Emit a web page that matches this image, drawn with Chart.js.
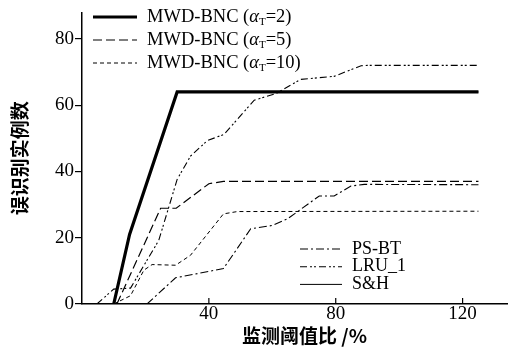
<!DOCTYPE html>
<html><head><meta charset="utf-8">
<script src="https://cdn.jsdelivr.net/npm/chart.js@4.4.1/dist/chart.umd.min.js"></script>
<style>html,body{margin:0;padding:0;background:#fff}#w{width:515px;height:347px}</style>
</head><body><div id="w"><canvas id="c" width="515" height="347"></canvas></div>
<script>
const xTicks = [40, 80, 120];
const yTicks = [0, 20, 40, 60, 80];
const xTitle = '监测阈值比 /%';
const yTitle = '误识别实例数';
const labels = ['MWD-BNC (α_T=2)', 'MWD-BNC (α_T=5)', 'MWD-BNC (α_T=10)', 'PS-BT', 'LRU_1', 'S&H'];
const mwd2 = [[10,0],[15,21],[30,64],[125,64]];
const mwd5 = [[11,0],[24.8,28.9],[29.7,28.9],[40,36.3],[44.6,37],[125,37]];
const mwd10 = [[10,0],[15.3,2.5],[19.5,10.2],[22.1,11.9],[29.5,11.7],[34.2,14.7],[44.6,27.2],[49,27.9],[125,28]];
const psbt = [[20.5,0],[29.5,7.9],[44.6,10.7],[53.2,22.7],[55.3,23],[60,23.7],[64.8,25.7],[74.8,32.6],[79.5,32.6],[84.8,35.6],[89,36.1],[125,36]];
const lru1 = [[4.7,0],[10,4.5],[15.3,4.8],[24.2,19.2],[30,37.6],[34.2,44.6],[39.5,49.3],[44.8,51.2],[54.3,61.5],[61.1,63.5],[69,67.8],[79.5,68.7],[88,71.9],[90,72],[125,72]];
const sh = [[10,0],[15,21],[30,64],[125,64]];

const pts = a => a.map(p => ({x:p[0], y:p[1]}));
const serif = '"Liberation Serif", "Times New Roman", serif';
const styles = [
  {w:3.2, d:[]}, {w:1.2, d:[9,4]}, {w:1, d:[4,3]}, {w:1.1, d:[8,3,2,3]}, {w:1.1, d:[7,3,2,2,2,3]}, {w:1, d:[]}
];
const series = [mwd2, mwd5, mwd10, psbt, lru1, sh];
const datasets = series.map((s,i) => ({
  label: labels[i], data: pts(s), borderColor:'#000', backgroundColor:'#000',
  borderWidth: styles[i].w, borderDash: styles[i].d, pointRadius:0, tension:0, fill:false,
  order: i===0 ? 0 : 1
}));

function drawLabel(ctx, text, x, y, size) {
  ctx.textBaseline = 'middle';
  ctx.textAlign = 'left';
  const m = text.match(/^(.*)α_T(.*)$/);
  if (!m) { ctx.font = size+'px '+serif; ctx.fillText(text, x, y); return; }
  ctx.font = size+'px '+serif; ctx.fillText(m[1], x, y); x += ctx.measureText(m[1]).width;
  ctx.font = 'italic '+size+'px '+serif; ctx.fillText('α', x, y); x += ctx.measureText('α').width;
  const ss = Math.round(size*0.62);
  ctx.font = ss+'px '+serif; ctx.fillText('T', x, y+size*0.28); x += ctx.measureText('T').width;
  ctx.font = size+'px '+serif; ctx.fillText(m[2], x, y);
}

const plugin = {
  id:'custom',
  afterDraw(chart) {
    const ctx = chart.ctx, xs = chart.scales.x, ys = chart.scales.y;
    ctx.save();
    ctx.strokeStyle = '#000'; ctx.fillStyle = '#000'; ctx.lineWidth = 1.2; ctx.setLineDash([]);
    const by = ys.getPixelForValue(0);
    xTicks.forEach(v => { const px = xs.getPixelForValue(v); ctx.beginPath(); ctx.moveTo(px, by); ctx.lineTo(px, by-6); ctx.stroke(); });
    const groups = [
      {idx:[0,1,2], x0:93, x1:137, tx:147, y0:17, dy:23, size:18.5},
      {idx:[3,4,5], x0:300, x1:342, tx:352, y0:249, dy:17.7, size:18}
    ];
    groups.forEach(g => g.idx.forEach((di,k) => {
      const ds = chart.data.datasets[di]; const y = g.y0 + k*g.dy;
      ctx.lineWidth = ds.borderWidth; ctx.setLineDash(ds.borderDash);
      ctx.beginPath(); ctx.moveTo(g.x0, y); ctx.lineTo(g.x1, y); ctx.stroke();
      ctx.setLineDash([]);
      drawLabel(ctx, ds.label, g.tx, y, g.size);
    }));
    // x-axis title, centred where the reference places it
    ctx.font = 'bold 19px "Noto Sans CJK SC"';
    ctx.textAlign = 'center'; ctx.textBaseline = 'middle';
    ctx.fillText(xTitle, (xs.left + xs.right)/2 + 10, 336);
    ctx.restore();
  }
};

new Chart(document.getElementById('c'), {
  type:'line',
  data:{datasets},
  plugins:[plugin],
  options:{
    responsive:false, animation:false,
    layout:{padding:{top:8, right:8, left:0, bottom:0}},
    plugins:{legend:{display:false}, tooltip:{enabled:false}},
    scales:{
      x:{type:'linear', min:0, max:134,
        afterBuildTicks: s => { s.ticks = xTicks.map(v => ({value:v})); },
        afterFit: s => { s.height = 43; },
        grid:{display:false},
        border:{display:true, color:'#000', width:1.5},
        ticks:{color:'#000', font:{family:serif, size:19}, padding:-9, maxRotation:0},
        title:{display:false}
      },
      y:{type:'linear', min:0, max:88,
        afterBuildTicks: s => { s.ticks = yTicks.map(v => ({value:v})); },
        afterFit: s => { s.width = 82; },
        grid:{drawOnChartArea:false, drawTicks:true, tickLength:7, color:'#000', lineWidth:1.2},
        border:{display:true, color:'#000', width:1.5},
        ticks:{color:'#000', font:{family:serif, size:19}, padding:1},
        title:{display:true, text:yTitle, color:'#000', font:{family:'"Noto Sans CJK SC"', size:19, weight:'bold'}, padding:{top:8,bottom:0}}
      }
    }
  }
});
</script></body></html>
